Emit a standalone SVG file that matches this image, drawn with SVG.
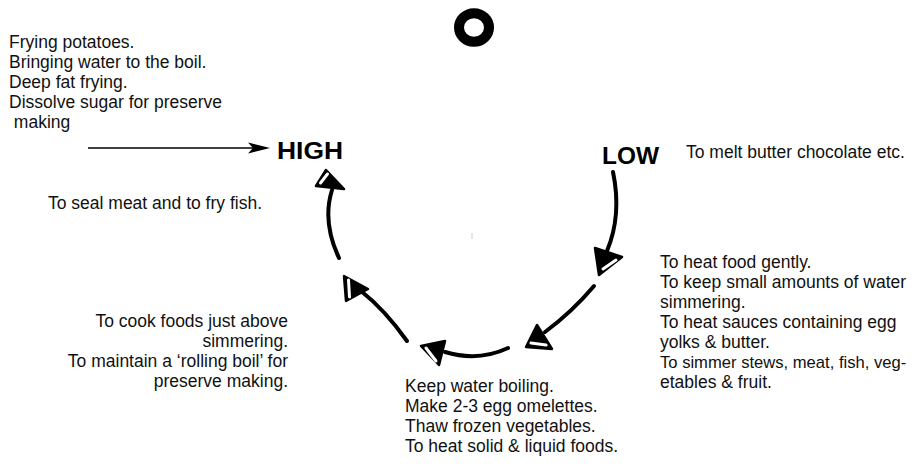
<svg xmlns="http://www.w3.org/2000/svg" width="917" height="468" viewBox="0 0 917 468">
<style>
.t{font-family:"Liberation Sans",Arial,sans-serif;font-size:17.5px;fill:#111}
.r{text-anchor:end}
.lbl{font-family:"Liberation Sans",Arial,sans-serif;font-weight:bold;font-size:23px;fill:#000}
.arc{fill:none;stroke:#000;stroke-width:4;stroke-linecap:round}
.head{fill:#000;stroke:#000;stroke-width:2.5;stroke-linejoin:round}
.slot{stroke:#fff;stroke-width:3;stroke-linecap:round}
</style>
<rect width="917" height="468" fill="#fff"/>
<g id="off">
<ellipse cx="474" cy="27.5" rx="15" ry="14.3" fill="none" stroke="#000" stroke-width="10"/>
</g>
<g id="high">
<text class="lbl" x="277" y="159" textLength="66" lengthAdjust="spacingAndGlyphs">HIGH</text>
</g>
<g id="low">
<text class="lbl" x="602" y="164" textLength="57" lengthAdjust="spacingAndGlyphs">LOW</text>
</g>
<g id="connectors">
<line x1="88" y1="148" x2="256" y2="148" stroke="#000" stroke-width="1.5"/>
<polygon points="270,148 248,142.5 253,148 248,153.5" fill="#000"/>
<path class="arc" d="M613,172 Q622,215 607,251"/>
<path class="arc" d="M594,286 Q572,312 545,332"/>
<path class="arc" d="M508,348 Q478,362 445,352"/>
<path class="arc" d="M407,341 Q385,310 361,291"/>
<path class="arc" d="M339,258 Q322,222 332,190"/>
</g>
<g id="marker-e">
<polygon class="head" points="595,248 622,257 599,275"/>
<line class="slot" x1="603" y1="269" x2="616" y2="260"/>
</g>
<g id="marker-c">
<polygon class="head" points="537,325 526,347 552,349"/>
<line class="slot" x1="531" y1="343" x2="546" y2="345"/>
</g>
<g id="marker-d">
<polygon class="head" points="421,346 445,341 439,365"/>
<line class="slot" x1="426" y1="348" x2="436" y2="361"/>
</g>
<g id="marker-b">
<polygon class="head" points="344,276 346,301 368,289"/>
<line class="slot" x1="348.5" y1="280" x2="349.5" y2="297"/>
</g>
<g id="marker-a">
<polygon class="head" points="326,170 316,186 344,189"/>
<line class="slot" x1="320.5" y1="183" x2="327.5" y2="174"/>
</g>
<rect x="471.5" y="233" width="1" height="6" fill="#ccc"/>
<g id="text-high">
<text class="t" x="9" y="48">Frying potatoes.</text>
<text class="t" x="9" y="68">Bringing water to the boil.</text>
<text class="t" x="9" y="88">Deep fat frying.</text>
<text class="t" x="9" y="108">Dissolve sugar for preserve</text>
<text class="t" x="9" y="128" xml:space="preserve"> making</text>
</g>
<g id="text-seal">
<text class="t" x="48" y="209">To seal meat and to fry fish.</text>
</g>
<g id="text-low">
<text class="t" x="686" y="158">To melt butter chocolate etc.</text>
</g>
<g id="text-gentle">
<text class="t" x="660" y="268">To heat food gently.</text>
<text class="t" x="660" y="288">To keep small amounts of water</text>
<text class="t" x="660" y="308">simmering.</text>
<text class="t" x="660" y="328">To heat sauces containing egg</text>
<text class="t" x="660" y="348">yolks &amp; butter.</text>
<text class="t" x="660" y="368" style="font-size:16.6px">To simmer stews, meat, fish, veg-</text>
<text class="t" x="660" y="388">etables &amp; fruit.</text>
</g>
<g id="text-boil">
<text class="t" x="405" y="392">Keep water boiling.</text>
<text class="t" x="405" y="412">Make 2-3 egg omelettes.</text>
<text class="t" x="405" y="432">Thaw frozen vegetables.</text>
<text class="t" x="405" y="452">To heat solid &amp; liquid foods.</text>
</g>
<g id="text-rolling">
<text class="t r" x="288" y="327">To cook foods just above</text>
<text class="t r" x="288" y="347">simmering.</text>
<text class="t r" x="288" y="367">To maintain a ‘rolling boil’ for</text>
<text class="t r" x="288" y="387">preserve making.</text>
</g>
</svg>
